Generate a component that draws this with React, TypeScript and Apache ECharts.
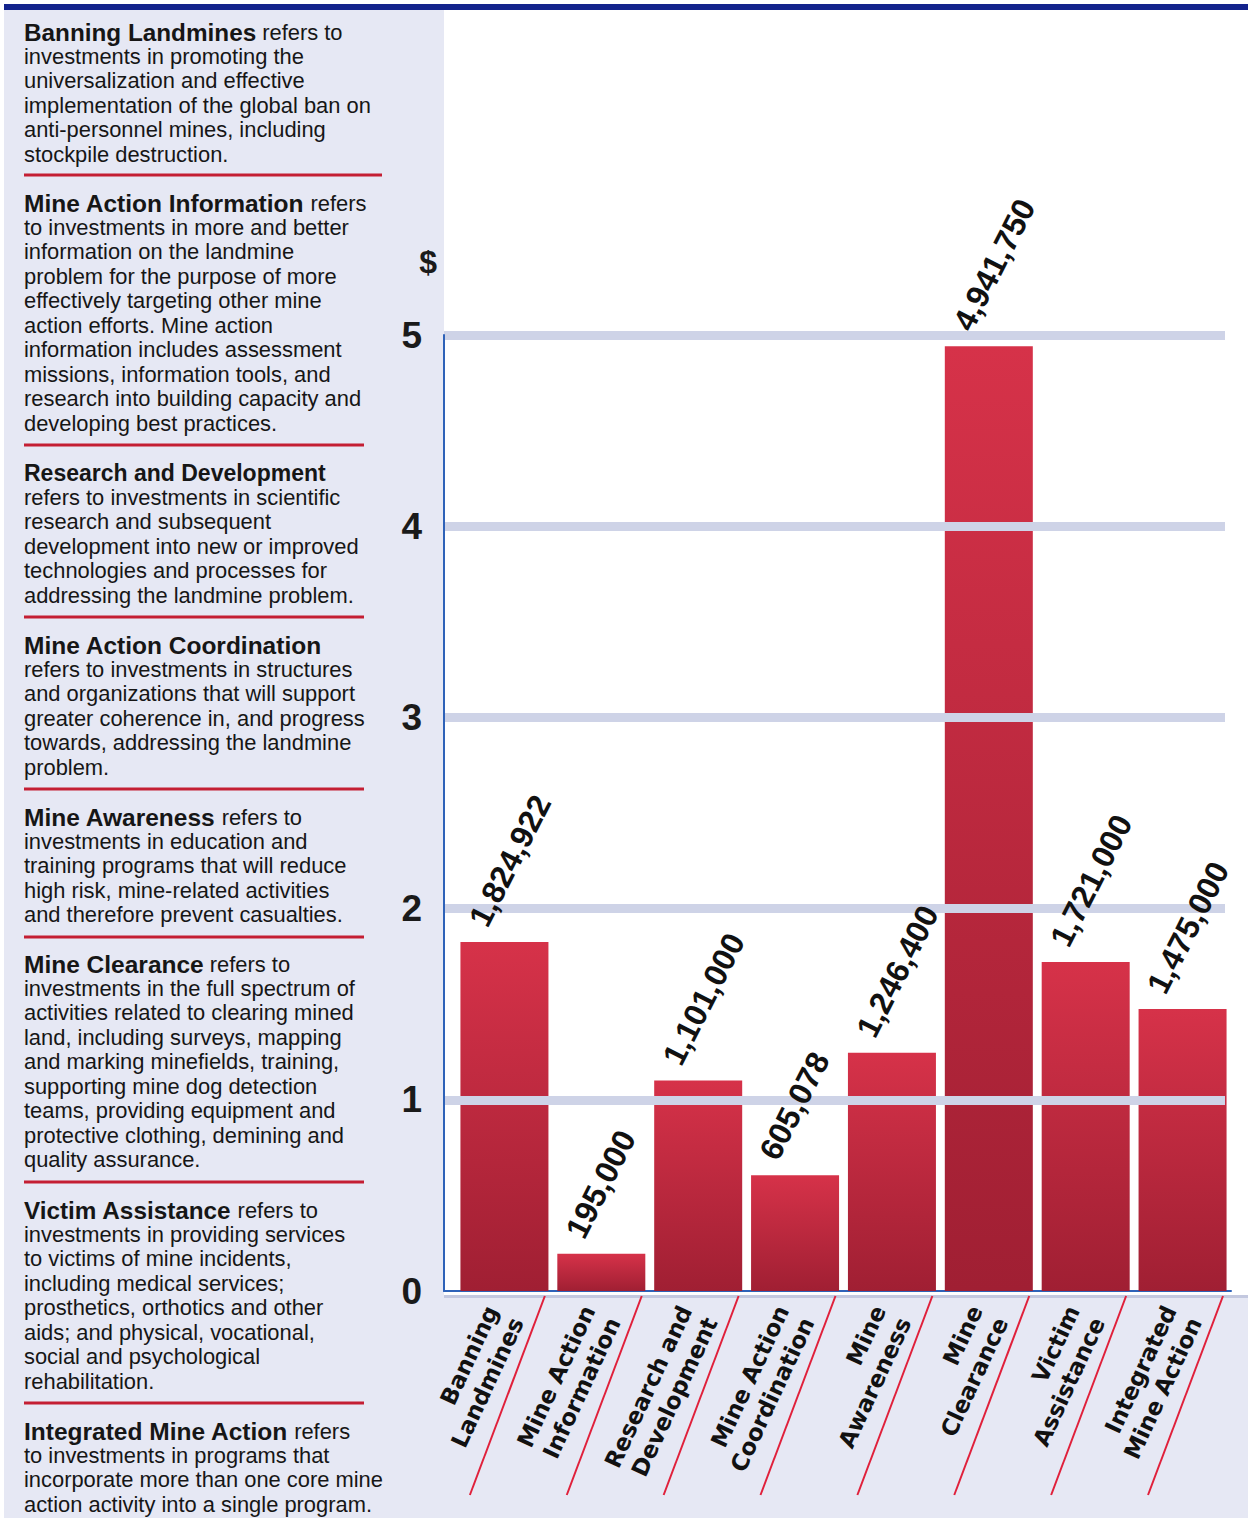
import React, { useEffect, useRef } from 'react';
import * as echarts from 'echarts';

// ---- data ----
const categories = [
  'Banning\nLandmines',
  'Mine Action\nInformation',
  'Research and\nDevelopment',
  'Mine Action\nCoordination',
  'Mine\nAwareness',
  'Mine\nClearance',
  'Victim\nAssistance',
  'Integrated\nMine Action',
];
const investments = [1824922, 195000, 1101000, 605078, 1246400, 4941750, 1721000, 1475000];
const yMax = 5000000;
const yStep = 1000000;
const currencySymbol = '$';

const defTitles = [
  'Banning Landmines',
  'Mine Action Information',
  'Research and Development',
  'Mine Action Coordination',
  'Mine Awareness',
  'Mine Clearance',
  'Victim Assistance',
  'Integrated Mine Action',
];
const defLeads = [' refers to', ' refers', '', '', ' refers to', ' refers to', ' refers to', ' refers'];
const defLines = [
  ['investments in promoting the', 'universalization and effective', 'implementation of the global ban on', 'anti-personnel mines, including', 'stockpile destruction.'],
  ['to investments in more and better', 'information on the landmine', 'problem for the purpose of more', 'effectively targeting other mine', 'action efforts. Mine action', 'information includes assessment', 'missions, information tools, and', 'research into building capacity and', 'developing best practices.'],
  ['refers to investments in scientific', 'research and subsequent', 'development into new or improved', 'technologies and processes for', 'addressing the landmine problem.'],
  ['refers to investments in structures', 'and organizations that will support', 'greater coherence in, and progress', 'towards, addressing the landmine', 'problem.'],
  ['investments in education and', 'training programs that will reduce', 'high risk, mine-related activities', 'and therefore prevent casualties.'],
  ['investments in the full spectrum of', 'activities related to clearing mined', 'land, including surveys, mapping', 'and marking minefields, training,', 'supporting mine dog detection', 'teams, providing equipment and', 'protective clothing, demining and', 'quality assurance.'],
  ['investments in providing services', 'to victims of mine incidents,', 'including medical services;', 'prosthetics, orthotics and other', 'aids; and physical, vocational,', 'social and psychological', 'rehabilitation.'],
  ['to investments in programs that', 'incorporate more than one core mine', 'action activity into a single program.'],
];

// ---- layout ----
const W = 1248;
const H = 1518;
const paraCenterY = [32, 203, 473, 645, 817, 964, 1210, 1431];
const titleSize = [24.3, 24.5, 23, 24.5, 24.5, 24.5, 24.3, 24.5];
const sepY = [175, 445, 617, 789, 937, 1182, 1403];
const sepRight = [382, 364, 364, 364, 364, 364, 364];
const LH = 24.45;
const bodySize = 21.9;
const panelFont = "'Liberation Sans', Arial, sans-serif";
const valueFont = "'Liberation Sans', Arial, sans-serif";

export default function App() {
  const ref = useRef<HTMLDivElement>(null);
  useEffect(() => {
    if (!ref.current) return;
    const chart = echarts.init(ref.current, undefined, { renderer: 'svg' });
    const gridTop = 335;
    const gridHeight = 956;
    const option: any = {
      animation: false,
      backgroundColor: '#ffffff',
      grid: [
        { left: 444, right: 23, top: gridTop, height: gridHeight },
        { left: 456, right: 17, top: gridTop, height: gridHeight },
      ],
      xAxis: [
        {
          gridIndex: 0, type: 'value', min: 0, max: 1,
          axisLine: { show: true, lineStyle: { color: '#2E62B8', width: 2 } },
          axisTick: { show: false }, axisLabel: { show: false }, splitLine: { show: false },
        },
        {
          gridIndex: 1, type: 'category', data: categories,
          axisLine: { show: true, lineStyle: { color: '#2E62B8', width: 2 } },
          axisTick: { show: false },
          axisLabel: {
            interval: 0, rotate: 65, margin: 22,
            fontFamily: "'DejaVu Sans', sans-serif", fontWeight: 'bold', fontSize: 23,
            lineHeight: 28, color: '#111',
          },
        },
      ],
      yAxis: [
        {
          gridIndex: 0, type: 'value', min: 0, max: yMax, interval: yStep, z: 3,
          axisLine: { show: true, lineStyle: { color: '#2E62B8', width: 2 } },
          axisTick: { show: false },
          axisLabel: {
            margin: 22, fontFamily: "'Liberation Sans', Arial, sans-serif", fontWeight: 'bold',
            fontSize: 37, color: '#1a1a1a', padding: [0, 0, 6, 0],
            formatter: (v: number) => String(v / yStep),
          },
          splitLine: { show: true, showMinLine: false, lineStyle: { color: '#CED3E7', width: 9 } },
        },
        {
          gridIndex: 1, type: 'value', min: 0, max: yMax, interval: yStep, show: false,
          splitLine: { show: false },
        },
      ],
      series: [
        {
          type: 'bar', xAxisIndex: 1, yAxisIndex: 1, z: 2, barWidth: 88,
          data: investments,
          itemStyle: {
            color: new echarts.graphic.LinearGradient(0, 0, 0, 1, [
              { offset: 0, color: '#D63249' },
              { offset: 1, color: '#A01F33' },
            ]),
          },
        },
        {
          type: 'bar', xAxisIndex: 1, yAxisIndex: 1, z: 4, barWidth: 88, barGap: '-100%',
          data: investments,
          itemStyle: { color: 'rgba(0,0,0,0)' },
          label: {
            show: true, position: 'top', rotate: 63, align: 'left', verticalAlign: 'middle',
            distance: 20, offset: [-14, -23],
            fontFamily: valueFont, fontWeight: 'bold', fontSize: 32, color: '#111',
            formatter: (p: any) => investments[p.dataIndex].toLocaleString('en-US'),
          },
        },
      ],
    };
    chart.setOption(option);

    // decorations
    const graphics: any[] = [];
    graphics.push({ type: 'rect', z: -10, shape: { x: 4, y: 10, width: 440, height: H - 10 }, style: { fill: '#E6E8F4' } });
    graphics.push({ type: 'rect', z: -10, shape: { x: 444, y: 1298, width: W - 444, height: H - 1298 }, style: { fill: '#E6E8F4' } });
    graphics.push({ type: 'rect', z: 10, shape: { x: 4, y: 4, width: W - 4, height: 6 }, style: { fill: '#13238C' } });
    graphics.push({ type: 'line', z: 1, shape: { x1: 444, y1: 1296.5, x2: W, y2: 1296.5 }, style: { stroke: '#C3C8DF', lineWidth: 3 } });

    // red diagonal separators under the category axis
    const y0 = chart.convertToPixel({ yAxisIndex: 1 } as any, 0) as number;
    const c0 = chart.convertToPixel({ xAxisIndex: 1 } as any, 0) as number;
    const c1 = chart.convertToPixel({ xAxisIndex: 1 } as any, 1) as number;
    const half = (c1 - c0) / 2;
    for (let i = 0; i < categories.length; i++) {
      const cx = chart.convertToPixel({ xAxisIndex: 1 } as any, i) as number;
      const xt = cx + half - 8;
      graphics.push({
        type: 'line', z: 5,
        shape: { x1: xt, y1: y0 + 5, x2: xt - 75, y2: y0 + 204 },
        style: { stroke: '#E0203B', lineWidth: 2 },
      });
    }

    // "$" unit label
    graphics.push({
      type: 'text', z: 10, x: 437, y: 262,
      style: { text: currencySymbol, fill: '#1a1a1a', fontFamily: "'Liberation Sans', Arial, sans-serif", fontWeight: 'bold', fontSize: 32, align: 'right', verticalAlign: 'middle' },
    });

    // definitions panel
    for (let i = 0; i < defTitles.length; i++) {
      const first = `{t|${defTitles[i]}}` + (defLeads[i] ? `{n|${defLeads[i]}}` : '');
      const text = [first, ...defLines[i].map((l) => `{n|${l}}`)].join('\n');
      graphics.push({
        type: 'text', z: 10, x: 24, y: paraCenterY[i] - LH / 2,
        style: {
          text, fill: '#161616', align: 'left', verticalAlign: 'top',
          fontFamily: panelFont, fontSize: bodySize, lineHeight: LH,
          rich: {
            t: { fontFamily: panelFont, fontSize: titleSize[i], fontWeight: 'bold', lineHeight: LH, fill: '#161616' },
            n: { fontFamily: panelFont, fontSize: bodySize, lineHeight: LH, fill: '#161616' },
          },
        },
      });
    }
    for (let i = 0; i < sepY.length; i++) {
      graphics.push({
        type: 'line', z: 10,
        shape: { x1: 24, y1: sepY[i], x2: sepRight[i], y2: sepY[i] },
        style: { stroke: '#C41E33', lineWidth: 3 },
      });
    }

    chart.setOption({ graphic: graphics });
    return () => chart.dispose();
  }, []);
  return <div ref={ref} style={{ position: 'absolute', left: 0, top: 0, width: W, height: H }} />;
}
